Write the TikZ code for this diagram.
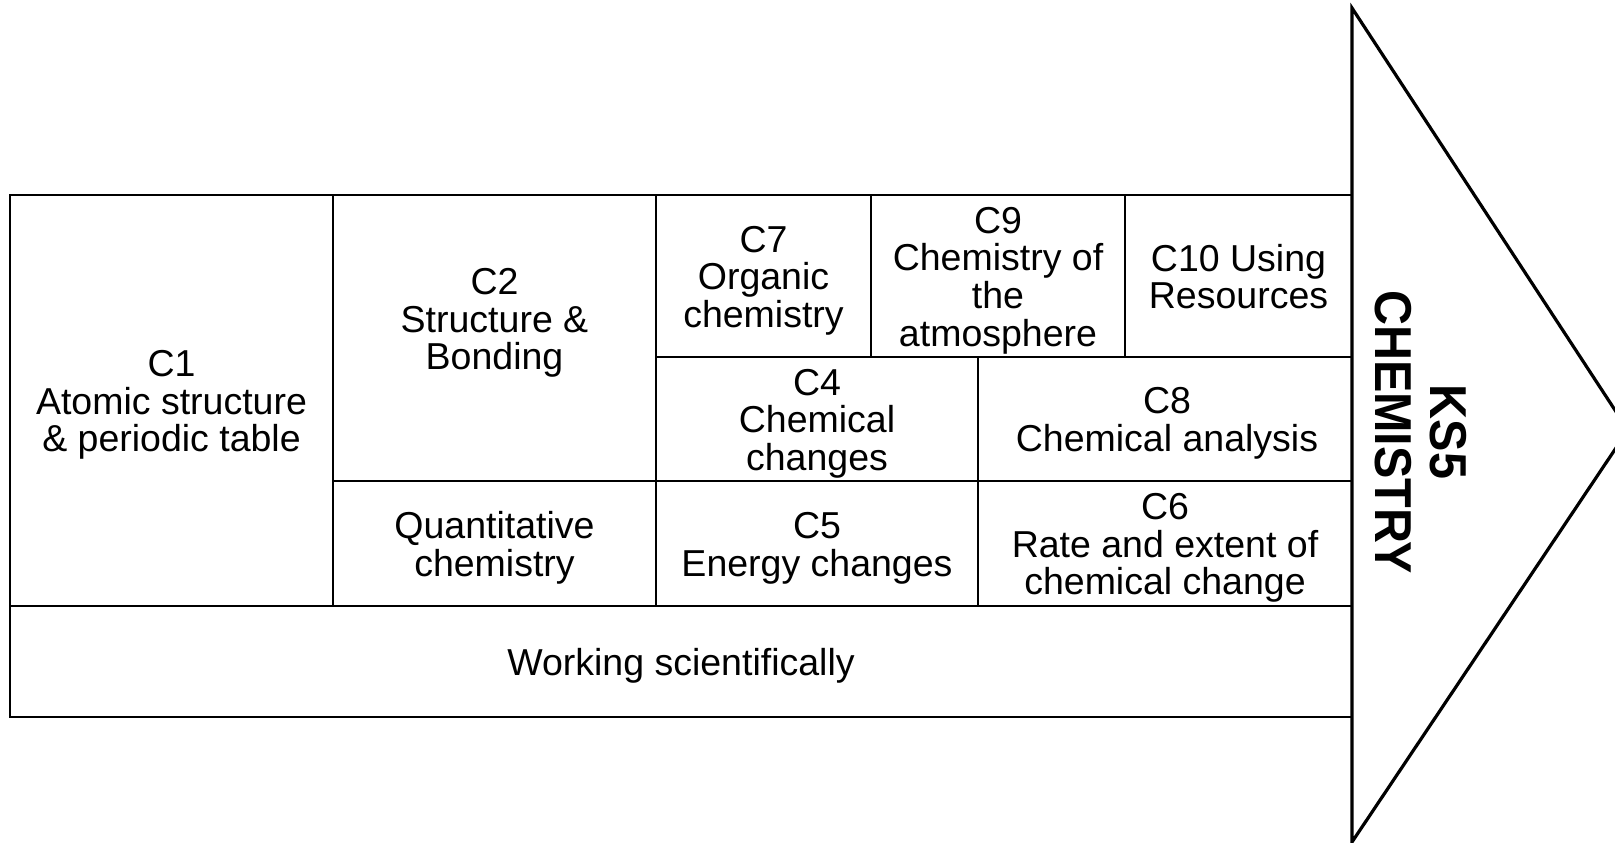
\documentclass[tikz,border=0pt]{standalone}
\usepackage{fontspec}
\setmainfont{Liberation Sans}
\begin{document}
\begin{tikzpicture}[x=1pt, y=-1pt,
  cell/.style={draw=black, line width=1.8pt, rectangle, inner sep=0pt, outer sep=0pt},
  celltext/.style={align=center, inner sep=0pt, yshift=-4.5pt,
    font=\fontsize{37.5}{37.6}\selectfont},
  arrowhead/.style={draw=black, line width=3.2pt, line join=miter, fill=white},
  banner/.style={rotate=-90, align=center, inner sep=0pt,
    font=\fontsize{48.5}{55}\selectfont\bfseries}]
  \useasboundingbox (0,0) rectangle (1615,843);

  % large arrow head pointing right
  \coordinate (top) at (1352,8);
  \coordinate (tip) at (1628,430);
  \coordinate (bot) at (1352,842);
  \draw[arrowhead] (top) -- (tip) -- (bot) -- cycle;
  \node[banner] (ks5) at (1421,432)
    {\scalebox{1}[1.07]{KS5}\\\scalebox{1}[1.07]{CHEMISTRY}};

  % topic blocks
  \node[cell, minimum width=323pt, minimum height=411pt,
    label={[celltext]center:{C1\\Atomic structure\\\& periodic table}}] (c1) at (171.5,400.5) {};
  \node[cell, minimum width=323pt, minimum height=286pt,
    label={[celltext, yshift=4.5pt]center:{C2\\Structure \&\\Bonding\\~}}] (c2) at (494.5,338) {};
  \node[cell, minimum width=215pt, minimum height=162pt,
    label={[celltext]center:{C7\\Organic\\chemistry}}] (c7) at (763.5,276) {};
  \node[cell, minimum width=254pt, minimum height=162pt,
    label={[celltext]center:{C9\\Chemistry of\\the\\atmosphere}}] (c9) at (998,276) {};
  \node[cell, minimum width=227pt, minimum height=162pt,
    label={[celltext, yshift=4pt]center:{C10 Using\\Resources}}] (c10) at (1238.5,276) {};
  \node[cell, minimum width=322pt, minimum height=124pt,
    label={[celltext]center:{C4\\Chemical\\changes}}] (c4) at (817,419) {};
  \node[cell, minimum width=374pt, minimum height=124pt,
    label={[celltext, xshift=2pt]center:{C8\\Chemical analysis}}] (c8) at (1165,419) {};
  \node[cell, minimum width=323pt, minimum height=125pt,
    label={[celltext]center:{Quantitative\\chemistry}}] (c3) at (494.5,543.5) {};
  \node[cell, minimum width=322pt, minimum height=125pt,
    label={[celltext]center:{C5\\Energy changes}}] (c5) at (817,543.5) {};
  \node[cell, minimum width=374pt, minimum height=125pt,
    label={[celltext]center:{C6\\Rate and extent of\\chemical change}}] (c6) at (1165,543.5) {};
  \node[cell, minimum width=1342pt, minimum height=111pt,
    label={[celltext]center:{Working scientifically}}] (ws) at (681,661.5) {};
\end{tikzpicture}
\end{document}
